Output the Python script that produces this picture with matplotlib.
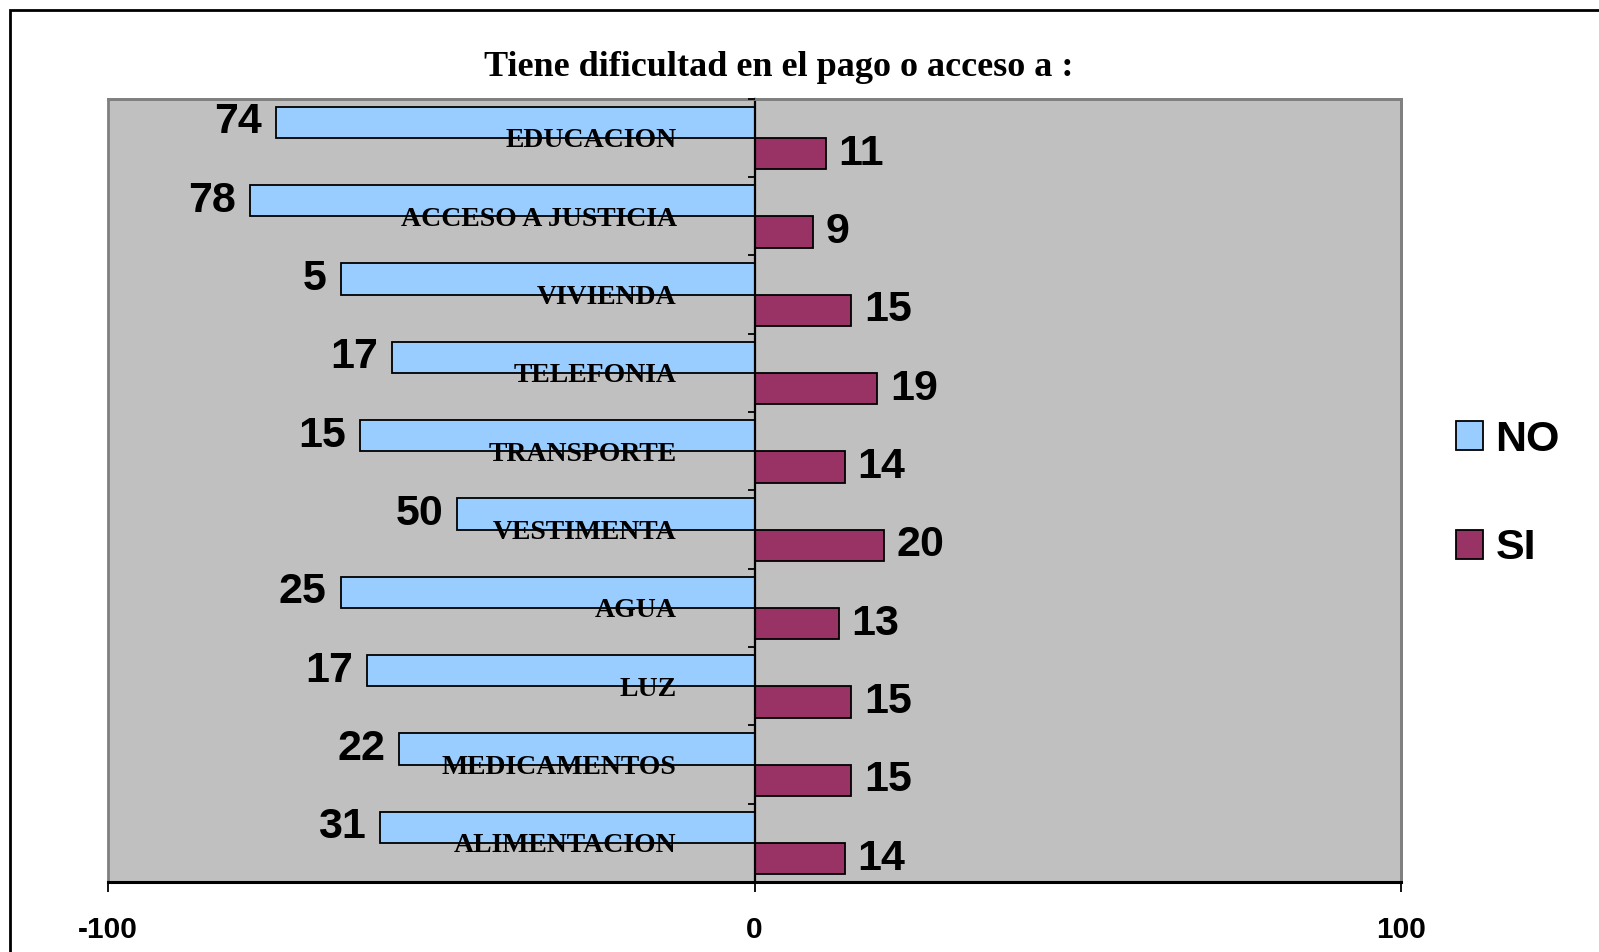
import matplotlib
matplotlib.use("Agg")
import matplotlib.pyplot as plt
from matplotlib.patches import Rectangle
import numpy as np

# Categorías (de arriba hacia abajo)
categorias = ["EDUCACION", "ACCESO A JUSTICIA", "VIVIENDA", "TELEFONIA", "TRANSPORTE",
              "VESTIMENTA", "AGUA", "LUZ", "MEDICAMENTOS", "ALIMENTACION"]
# Longitud de las barras "NO" leída sobre el eje (%)
no_pct = [74, 78, 64, 56, 61, 46, 64, 60, 55, 58]
# Rótulos de datos impresos junto a las barras "NO"
no_etiquetas = ["74", "78", "5", "17", "15", "50", "25", "17", "22", "31"]
# Barras "SI" (%)
si_pct = [11, 9, 15, 19, 14, 20, 13, 15, 15, 14]
series = ["NO", "SI"]
xticks = [-100, 0, 100]
titulo = "Tiene dificultad en el pago o acceso a :"

SANS = "Liberation Sans"
SERIF = "Liberation Serif"
plt.rcParams["font.family"] = [SANS, "DejaVu Sans"]

W, H = 1599, 952
fig = plt.figure(figsize=(W / 100, H / 100), dpi=100)
fig.patch.set_facecolor("white")

left, right, top, bottom = 108, 1401, 98.7, 882
ax = fig.add_axes([left / W, 1 - bottom / H, (right - left) / W, (bottom - top) / H])
ax.set_facecolor("#C0C0C0")
ax.patch.set_edgecolor("#808080")
ax.patch.set_linewidth(2)

y = np.arange(len(categorias))
alto = 0.4
barras_no = ax.barh(y - alto / 2, -np.array(no_pct), height=alto, color="#99CCFF",
                    edgecolor="black", linewidth=1.3, label=series[0], zorder=1)
barras_si = ax.barh(y + alto / 2, si_pct, height=alto, color="#993366",
                    edgecolor="black", linewidth=1.3, label=series[1], zorder=1)

ax.set_xlim(-100, 100)
ax.set_ylim(len(categorias) - 0.5, -0.5)

# Rótulos de datos
ax.bar_label(barras_no, labels=no_etiquetas, padding=10, fontsize=31,
             fontweight="bold", family=SANS)
ax.bar_label(barras_si, labels=[str(v) for v in si_pct], padding=9, fontsize=31,
             fontweight="bold", family=SANS)

# Eje de categorías sobre el cero
ax.spines["left"].set_position(("data", 0))
ax.spines["left"].set_color("black")
ax.spines["left"].set_linewidth(1.6)
ax.set_yticks(y)
ax.set_yticklabels(categorias, fontfamily=SERIF, fontsize=20, fontweight="bold")
ax.set_yticks(np.arange(len(categorias) + 1) - 0.5, minor=True)
ax.tick_params(axis="y", which="major", length=0, pad=56)
ax.tick_params(axis="y", which="minor", length=5, width=1.3, direction="out")
ax.set_axisbelow(False)

# Eje de valores
ax.set_xticks(xticks)
ax.set_xticklabels([str(t) for t in xticks], fontsize=21.5, fontweight="bold", family=SANS)
ax.tick_params(axis="x", length=7.5, width=1.3, pad=17, direction="out")

for lado in ("top", "right"):
    ax.spines[lado].set_color("#808080")
    ax.spines[lado].set_linewidth(2)
ax.spines["bottom"].set_color("black")
ax.spines["bottom"].set_linewidth(2.2)

# Título
fig.text(779 / W, 1 - 75.5 / H, titulo, ha="center", va="baseline",
         fontfamily=SERIF, fontsize=26, fontweight="bold")

# Leyenda
fig.legend(handles=[barras_no, barras_si], labels=series, loc="center left",
           bbox_to_anchor=(1456 / W, 1 - 494 / H), frameon=False,
           borderpad=0, borderaxespad=0, handlelength=0.62, handleheight=0.65,
           handletextpad=0.3, labelspacing=1.6,
           prop={"family": SANS, "weight": "bold", "size": 31})

# Marco exterior del gráfico
fig.patches.append(Rectangle((10 / W, -0.1), 1.2, 1 - 10 / H + 0.1,
                             transform=fig.transFigure, fill=False,
                             edgecolor="black", linewidth=2))

fig.savefig("out.png", dpi=100)
